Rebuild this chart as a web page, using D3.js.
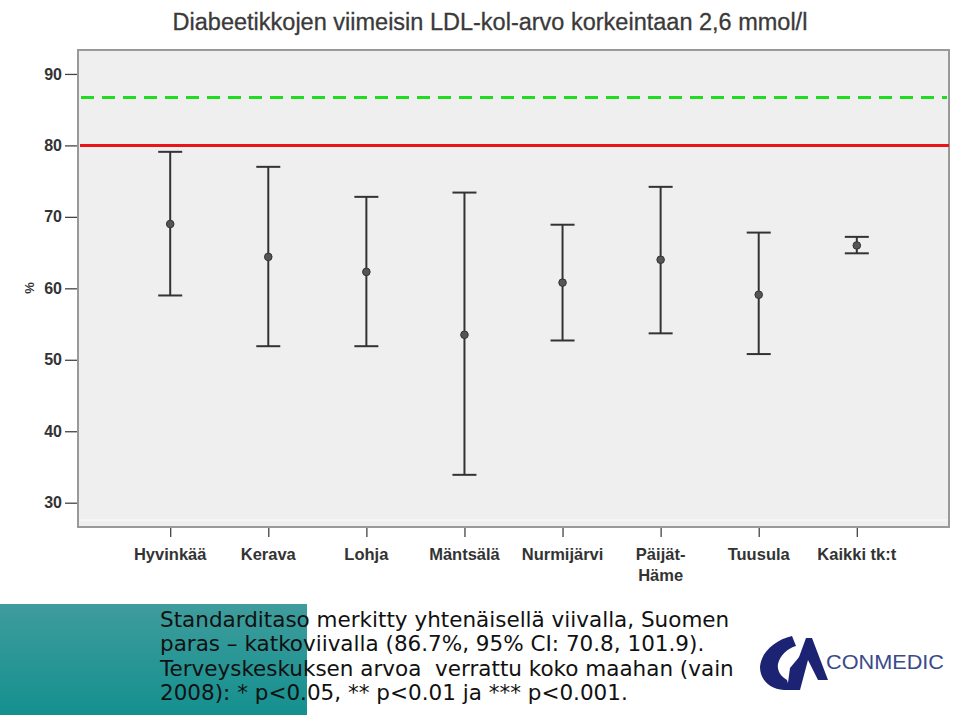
<!DOCTYPE html>
<html><head><meta charset="utf-8">
<script src="https://cdn.jsdelivr.net/npm/d3@7"></script>
<style>body{margin:0;background:#fff}svg{display:block}</style>
</head><body>
<svg id="c" width="960" height="717"></svg>
<script>
const categories = ["Hyvinkää","Kerava","Lohja","Mäntsälä","Nurmijärvi","Päijät-Häme","Tuusula","Kaikki tk:t"];
const labelLines = [["Hyvinkää"],["Kerava"],["Lohja"],["Mäntsälä"],["Nurmijärvi"],["Päijät-","Häme"],["Tuusula"],["Kaikki tk:t"]];
const means = [69.0, 64.4, 62.3, 53.5, 60.8, 64.0, 59.1, 66.0];
const upper = [79.1, 77.0, 72.8, 73.4, 68.9, 74.2, 67.8, 67.2];
const lower = [59.0, 51.9, 51.9, 33.9, 52.7, 53.7, 50.8, 64.9];
const yTicks = [30, 40, 50, 60, 70, 80, 90];
const standardLevel = 80;
const bestLevel = 86.7;
const title = "Diabeetikkojen viimeisin LDL-kol-arvo korkeintaan 2,6 mmol/l";
const footnote = ["Standarditaso merkitty yhtenäisellä viivalla, Suomen",
  "paras – katkoviivalla (86.7%, 95% CI: 70.8, 101.9).",
  "Terveyskeskuksen arvoa  verrattu koko maahan (vain",
  "2008): * p<0.05, ** p<0.01 ja *** p<0.001."];

const svg = d3.select("#c");
const L = 78, R = 949, T = 50, B = 527;
const x = d3.scalePoint().domain(categories).range([L, R]).padding(0.94);
const y = d3.scaleLinear().domain([26.6, 93.35]).range([B, T]);

const defs = svg.append("defs");
const g1 = defs.append("linearGradient").attr("id","teal").attr("x1",0).attr("x2",0).attr("y1",0).attr("y2",1);
g1.append("stop").attr("offset","0%").attr("stop-color","#3f9c9c");
g1.append("stop").attr("offset","100%").attr("stop-color","#14908f");

// title
svg.append("text").attr("x", 490).attr("y", 30).attr("text-anchor","middle")
  .attr("font-family","Liberation Sans, Arial, sans-serif").attr("font-size", 23.5)
  .attr("fill","#3a3a3a").attr("stroke","#3a3a3a").attr("stroke-width",0.3).text(title);

// plot background & frame
svg.append("rect").attr("x", L).attr("y", T).attr("width", R-L).attr("height", B-T)
  .attr("fill","#efefef").attr("stroke","#999").attr("stroke-width",2);
svg.append("line").attr("x1",L+1).attr("x2",R-1).attr("y1",B-7).attr("y2",B-7).attr("stroke","#fafafa").attr("stroke-width",1);

// y axis
const yAxis = d3.axisLeft(y).tickValues(yTicks).tickSize(12).tickPadding(3);
const ya = svg.append("g").attr("transform",`translate(${L-1},0)`).call(yAxis);
ya.select(".domain").remove();
ya.selectAll(".tick line").attr("stroke","#444").attr("stroke-width",1.3);
ya.selectAll(".tick text").attr("font-family","Liberation Sans, Arial, sans-serif")
  .attr("font-size",16).attr("font-weight","bold").attr("fill","#333");

svg.append("text").attr("transform","translate(34,288) rotate(-90)").attr("text-anchor","middle")
  .attr("font-family","Liberation Sans, Arial, sans-serif").attr("font-size",13).attr("font-weight","bold")
  .attr("fill","#333").text("%");

// x axis
const xAxis = d3.axisBottom(x).tickSize(9).tickFormat("");
const xa = svg.append("g").attr("transform",`translate(0,${B+1})`).call(xAxis);
xa.select(".domain").remove();
xa.selectAll(".tick line").attr("stroke","#444").attr("stroke-width",1.3);
categories.forEach((c,i)=>{
  const t = svg.append("text").attr("x", x(c)).attr("y", 560).attr("text-anchor","middle")
    .attr("font-family","Liberation Sans, Arial, sans-serif").attr("font-size",16.5).attr("font-weight","bold")
    .attr("fill","#333");
  labelLines[i].forEach((ln,j)=> t.append("tspan").attr("x", x(c)).attr("dy", j===0?0:21).text(ln));
});

// reference lines
svg.append("line").attr("x1", L+2).attr("x2", R).attr("y1", y(standardLevel)).attr("y2", y(standardLevel))
  .attr("stroke","#e8141a").attr("stroke-width",3);
svg.append("line").attr("x1", L+3).attr("x2", R-2).attr("y1", y(bestLevel)).attr("y2", y(bestLevel))
  .attr("stroke","#1fdc1f").attr("stroke-width",3).attr("stroke-dasharray","13,8");

// error bars
const g = svg.append("g");
categories.forEach((c,i)=>{
  const cx = x(c);
  g.append("line").attr("x1",cx).attr("x2",cx).attr("y1",y(upper[i])).attr("y2",y(lower[i]))
    .attr("stroke","#333").attr("stroke-width",2);
  [upper[i], lower[i]].forEach(v=>{
    g.append("line").attr("x1",cx-12).attr("x2",cx+12).attr("y1",y(v)).attr("y2",y(v))
      .attr("stroke","#333").attr("stroke-width",2);
  });
  g.append("circle").attr("cx",cx).attr("cy",y(means[i])).attr("r",3.8).attr("fill","#555").attr("stroke","#333").attr("stroke-width",1);
});

// footer teal block
svg.append("rect").attr("x",0).attr("y",604).attr("width",307).attr("height",111).attr("fill","url(#teal)");
const ft = svg.append("text").attr("font-family","DejaVu Sans, Verdana, sans-serif").attr("font-size",21.5).attr("fill","#111");
footnote.forEach((ln,i)=> ft.append("tspan").attr("x",160).attr("y",627+i*24.3).attr("xml:space","preserve").text(ln));

// logo
const lg = svg.append("g");
lg.append("path").attr("d","M792,636 C775,640 761,652 760,667 C760,680 770,689 784,690 L790,690 L787,680 C780,676 777,670 778,664 C780,655 788,648 796,646 Z")
  .attr("fill","#1d2373");
lg.append("path").attr("d","M787,690 L806,638 L812,638 L828,680 L818,680 L808,660 L800,690 Z").attr("fill","#1d2373");
lg.append("path").attr("d","M787,690 L790,668 L800,656 L796,690 Z").attr("fill","#1d2373");
lg.append("text").attr("x",826).attr("y",669).attr("font-family","Liberation Sans, Arial, sans-serif")
  .attr("font-size",21).attr("fill","#3a4a8a").attr("textLength",118).attr("lengthAdjust","spacingAndGlyphs").text("CONMEDIC");
</script>
</body></html>
